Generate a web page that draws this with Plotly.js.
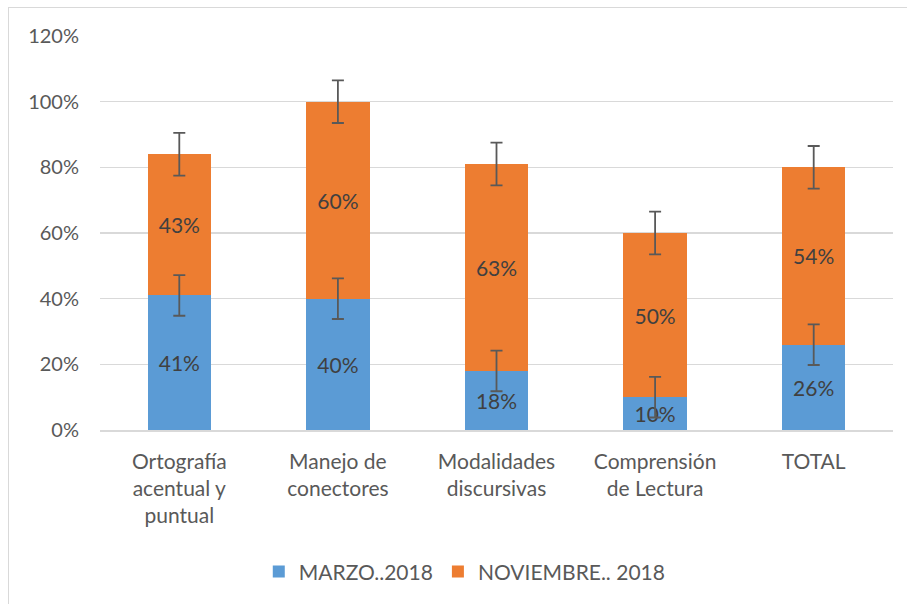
<!DOCTYPE html>
<html>
<head>
<meta charset="utf-8">
<script src="https://cdn.plot.ly/plotly-3.0.1.min.js"></script>
<style>
  html, body { margin: 0; padding: 0; background: #ffffff; }
  #wrap { position: relative; width: 907px; height: 604px; overflow: hidden; }
  #chart { position: absolute; left: 0; top: 0; width: 907px; height: 604px; }
  #frame { position: absolute; left: 8px; top: 7px; width: 905px; height: 610px;
           border-left: 1.5px solid #d9d9d9; border-top: 1.5px solid #d9d9d9; pointer-events: none; }
</style>
</head>
<body>
<div id="wrap">
  <div id="chart"></div>
  <div id="frame"></div>
</div>
<script>
const categories = [
  "Ortografía<br>acentual y<br>puntual",
  "Manejo de<br>conectores",
  "Modalidades<br>discursivas",
  "Comprensión<br>de Lectura",
  "TOTAL"
];
const seriesNames = ["MARZO..2018", "NOVIEMBRE.. 2018"];
const marzo = [0.41, 0.40, 0.18, 0.10, 0.26];
const noviembre = [0.43, 0.60, 0.63, 0.50, 0.54];
const marzoErr = [0.062, 0.062, 0.062, 0.062, 0.062];
const noviembreErr = [0.065, 0.065, 0.065, 0.065, 0.065];
const yTickVals = [0, 0.2, 0.4, 0.6, 0.8, 1.0, 1.2];
const yTickText = ["0%", "20%", "40%", "60%", "80%", "100%", "120%"];

const FONT = "Lato, 'Open Sans', sans-serif";
const pct = v => Math.round(v * 100) + "%";
const stackTop = marzo.map((v, i) => v + noviembre[i]);

const common = {
  type: "bar",
  x: categories,
  textposition: "inside",
  insidetextanchor: "middle",
  constraintext: "none",
  textangle: 0,
  textfont: { family: FONT, size: 21, color: "#404040" },
  hoverinfo: "skip"
};

const errStyle = { type: "data", visible: true, color: "#595959", thickness: 1.8, width: 6 };

const traces = [
  Object.assign({}, common, {
    name: seriesNames[0],
    y: marzo,
    text: marzo.map(pct),
    marker: { color: "#5B9BD5" }
  }),
  Object.assign({}, common, {
    name: seriesNames[1],
    y: noviembre,
    text: noviembre.map(pct),
    marker: { color: "#ED7D31" }
  }),
  {
    type: "scatter", mode: "markers", x: categories, y: marzo,
    marker: { size: 1, opacity: 0 }, showlegend: false, hoverinfo: "skip",
    error_y: Object.assign({ array: marzoErr }, errStyle)
  },
  {
    type: "scatter", mode: "markers", x: categories, y: stackTop,
    marker: { size: 1, opacity: 0 }, showlegend: false, hoverinfo: "skip",
    error_y: Object.assign({ array: noviembreErr }, errStyle)
  }
];

const layout = {
  width: 907,
  height: 604,
  margin: { l: 100, r: 14, t: 36, b: 174 },
  paper_bgcolor: "rgba(0,0,0,0)",
  plot_bgcolor: "#ffffff",
  barmode: "stack",
  bargap: 0.6,
  font: { family: FONT, size: 20, color: "#595959" },
  showlegend: true,
  legend: {
    orientation: "h",
    x: 0.46, xanchor: "center",
    y: -0.36, yanchor: "middle",
    font: { family: FONT, size: 21, color: "#595959" },
    traceorder: "normal"
  },
  xaxis: {
    showgrid: false,
    showline: true,
    linecolor: "#d9d9d9",
    linewidth: 1.5,
    ticks: "",
    tickfont: { family: FONT, size: 21, color: "#595959" },
    ticklabelstandoff: 12,
    fixedrange: true
  },
  yaxis: {
    range: [0, 1.2],
    tickvals: yTickVals,
    ticktext: yTickText,
    showgrid: true,
    gridcolor: "#d9d9d9",
    gridwidth: 1.5,
    zeroline: false,
    showline: false,
    ticks: "",
    ticklabelstandoff: 20,
    tickfont: { family: FONT, size: 20, color: "#595959" },
    fixedrange: true
  }
};

Plotly.newPlot("chart", traces, layout, { displayModeBar: false, staticPlot: true });
</script>
</body>
</html>
